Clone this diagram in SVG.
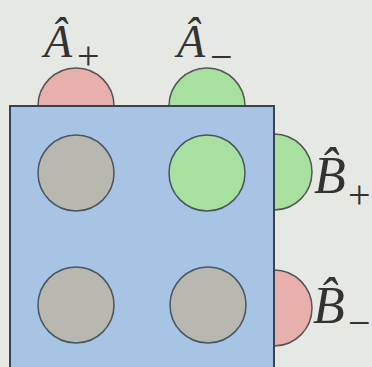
<svg xmlns="http://www.w3.org/2000/svg" width="372" height="367" viewBox="0 0 372 367">
<style>
.port{stroke:#555;stroke-width:1.5}
.pink{fill:#e8b0ac}
.green{fill:#a8e0a0}
.gray{fill:#b8b8b0}
.lbl{font-family:"Liberation Serif",serif;font-style:italic;fill:#333}
.sub{font-family:"Liberation Serif",serif;font-style:normal;fill:#333;font-size:40px}
</style>
<rect width="372" height="367" fill="#e6e8e4"/>
<g id="ports">
<circle id="Aplus" class="port pink" cx="76" cy="106" r="38"/>
<circle id="Aminus" class="port green" cx="207" cy="106" r="38"/>
<circle id="Bplus" class="port green" cx="274" cy="172" r="38"/>
<circle id="Bminus" class="port pink" cx="274" cy="308" r="38"/>
</g>
<g id="board">
<rect x="10" y="106" width="264" height="280" fill="#a8c4e4" stroke="#3a4250" stroke-width="2"/>
</g>
<g id="sites" stroke="#4a5560" stroke-width="1.5">
<circle id="s11" class="gray" cx="76" cy="173" r="38"/>
<circle id="s12" class="green" cx="207" cy="173" r="38"/>
<circle id="s21" class="gray" cx="76" cy="305" r="38"/>
<circle id="s22" class="gray" cx="208" cy="305" r="38"/>
</g>
<g id="labels">
<text class="lbl" x="44" y="57" font-size="46">Â<tspan class="sub" x="77" y="69">+</tspan></text>
<text class="lbl" x="177" y="57" font-size="46">Â<tspan class="sub" x="210" y="70">−</tspan></text>
<text class="lbl" x="314" y="193" font-size="52">B̂<tspan class="sub" x="348" y="208">+</tspan></text>
<text class="lbl" x="313" y="323" font-size="52">B̂<tspan class="sub" x="348" y="336">−</tspan></text>
</g>
</svg>
